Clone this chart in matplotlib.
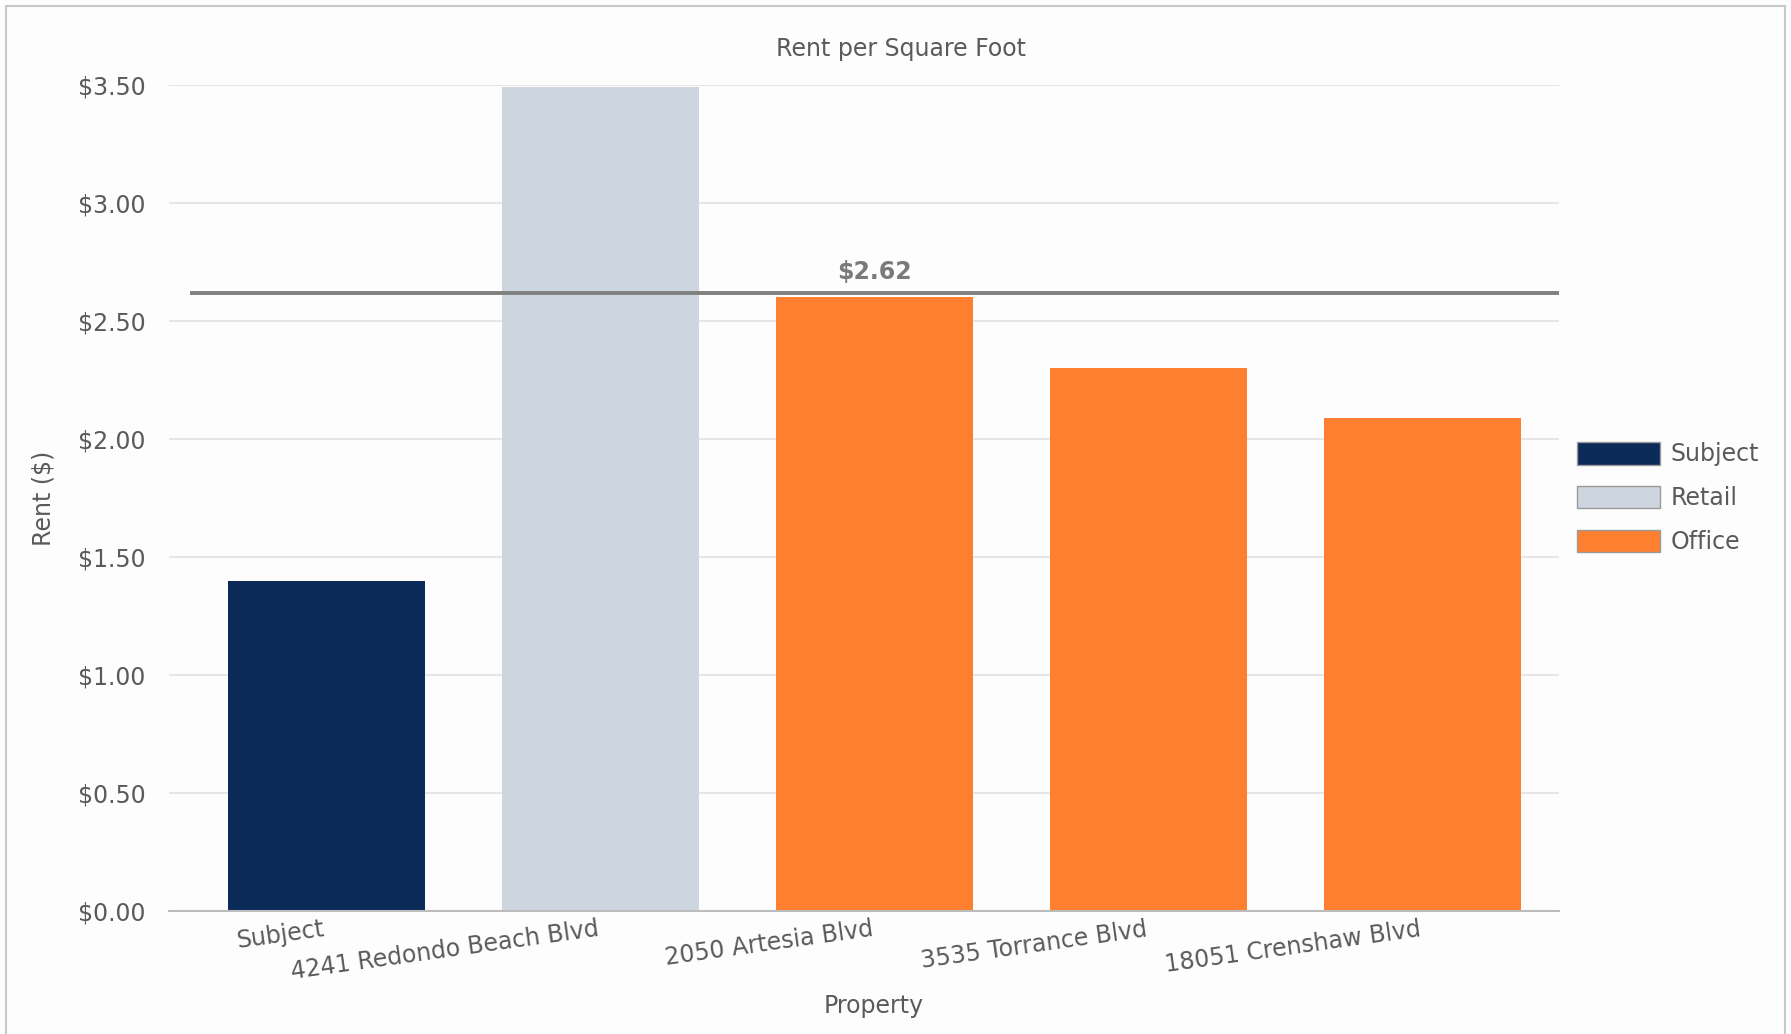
import numpy as np
import matplotlib.pyplot as plt
from matplotlib.patches import Patch, Rectangle

# data
properties = ["Subject", "4241 Redondo Beach Blvd", "2050 Artesia Blvd",
              "3535 Torrance Blvd", "18051 Crenshaw Blvd"]
rents = [1.40, 3.49, 2.60, 2.30, 2.09]
kinds = ["Subject", "Retail", "Office", "Office", "Office"]
average_rent = 2.62
yticks = [0.0, 0.5, 1.0, 1.5, 2.0, 2.5, 3.0, 3.5]

colors = {"Subject": "#0c2a58", "Retail": "#cdd5df", "Office": "#fe7f2f"}
text_color = "#5a5a5a"
fs = 17

fig = plt.figure(figsize=(17.91, 10.34), dpi=100, facecolor="#fdfdfd")
ax = fig.add_axes([0.0944, 0.1185, 0.7761, 0.7995])
ax.set_facecolor("#fdfdfd")

# light frame around the whole picture
fig.patches.append(Rectangle((6 / 1791, -0.05), 1779 / 1791, 1.05 - 6 / 1034,
                             transform=fig.transFigure, fill=False,
                             edgecolor="#c8c8c8", lw=1.5))

x = np.arange(len(properties))
ax.bar(x, rents, width=0.72, color=[colors[k] for k in kinds], zorder=2)

# average line
ax.hlines(average_rent, -0.5, 4.5, color="#808080", lw=2.8, zorder=3)
ax.text(2, average_rent + 0.035, "$%.2f" % average_rent, ha="center", va="bottom",
        fontsize=fs, fontweight="bold", color="#7a7a7a")

ax.set_xlim(-0.575, 4.5)
ax.set_ylim(0, 3.5)
ax.set_yticks(yticks)
ax.set_yticklabels(["$%.2f" % v for v in yticks])
ax.set_xticks(x)
ax.set_xticklabels(properties, rotation=8, ha="right")
ax.tick_params(axis="both", length=0, labelsize=fs, colors=text_color)
ax.tick_params(axis="y", pad=17)
ax.tick_params(axis="x", pad=4)
ax.grid(axis="y", color="#e6e6e6", lw=1.5, zorder=0)
ax.set_axisbelow(True)
for side in ["top", "right", "left"]:
    ax.spines[side].set_visible(False)
ax.spines["bottom"].set_color("#bdbdbd")
ax.spines["bottom"].set_linewidth(1.5)

ax.set_ylabel("Rent ($)", fontsize=fs, color=text_color, labelpad=16)
fig.text(874 / 1791, 1 - 1006 / 1034, "Property", ha="center", va="center",
         fontsize=fs, color=text_color)
fig.text(901 / 1791, 1 - 49 / 1034, "Rent per Square Foot", ha="center",
         va="center", fontsize=fs, color=text_color)

handles = [Patch(facecolor=colors[k], edgecolor="#9a9a9a", lw=1)
           for k in ["Subject", "Retail", "Office"]]
fig.legend(handles, ["Subject", "Retail", "Office"], loc="center left",
           bbox_to_anchor=(1556 / 1791, 1 - 498 / 1034), frameon=False,
           fontsize=fs, handlelength=3.5, handleheight=1.1, labelspacing=0.82,
           handletextpad=0.45, labelcolor=text_color)

plt.savefig("out.png", dpi=100, facecolor=fig.get_facecolor())
plt.close()
